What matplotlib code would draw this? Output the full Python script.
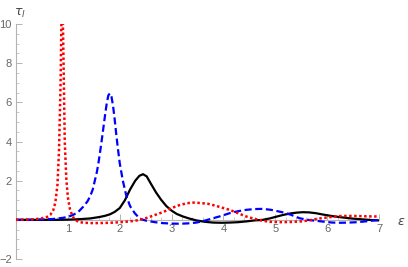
import numpy as np
import matplotlib
matplotlib.use("Agg")
import matplotlib.pyplot as plt
from matplotlib.ticker import MultipleLocator, FixedLocator

# ---------- data ----------
red_x = [0, 0.2, 0.4, 0.5, 0.6, 0.66, 0.72, 0.76, 0.8, 0.83, 0.86, 0.875, 0.89,
         0.905, 0.92, 0.94, 0.97, 1.0, 1.04, 1.08, 1.12, 1.2, 1.3, 1.5, 1.7,
         1.9, 2.1, 2.2, 2.35, 2.5, 2.65, 2.84, 3.0, 3.15, 3.3, 3.42, 3.55, 3.7,
         3.85, 4.0, 4.12, 4.28, 4.44, 4.6, 4.76, 4.9, 5.1, 5.3, 5.5, 5.65, 5.8,
         6.0, 6.15, 6.3, 6.5, 6.75, 7.0]
red_y = [0, 0.01, 0.04, 0.08, 0.15, 0.25, 0.5, 0.9, 1.8, 3.6, 7.0, 10.0, 11.0,
         10.0, 7.5, 4.0, 2.1, 1.15, 0.55, 0.25, 0.05, -0.1, -0.15, -0.17,
         -0.16, -0.14, -0.1, -0.08, -0.02, 0.08, 0.22, 0.4, 0.6, 0.75, 0.85,
         0.88, 0.86, 0.82, 0.72, 0.6, 0.51, 0.34, 0.17, 0.05, -0.05, -0.1,
         -0.12, -0.11, -0.08, -0.03, 0.05, 0.12, 0.17, 0.2, 0.2, 0.18, 0.17]

blue_x = [0, 0.4, 0.7, 0.9, 1.0, 1.1, 1.2, 1.3, 1.38, 1.43, 1.48, 1.52, 1.56,
          1.59, 1.64, 1.68, 1.72, 1.75, 1.78, 1.81, 1.84, 1.87, 1.9, 1.93,
          1.96, 2.0, 2.06, 2.13, 2.2, 2.29, 2.39, 2.52, 2.68, 2.84, 3.0, 3.16,
          3.32, 3.48, 3.64, 3.8, 3.96, 4.12, 4.28, 4.44, 4.6, 4.76, 4.92, 5.15,
          5.3, 5.47, 5.63, 5.79, 5.95, 6.1, 6.26, 6.42, 6.58, 6.74, 6.9, 7.0]
blue_y = [0, 0.01, 0.04, 0.1, 0.15, 0.25, 0.4, 0.68, 0.95, 1.2, 1.55, 2.0, 2.45,
          2.9, 3.8, 4.6, 5.4, 5.95, 6.35, 6.46, 6.3, 5.85, 5.2, 4.45, 3.75,
          2.9, 2.0, 1.2, 0.7, 0.34, 0.05, -0.05, -0.12, -0.17, -0.19, -0.2,
          -0.18, -0.14, -0.04, 0.08, 0.2, 0.34, 0.44, 0.51, 0.55, 0.56, 0.51,
          0.38, 0.26, 0.08, 0.0, -0.05, -0.1, -0.14, -0.15, -0.14, -0.12, -0.08,
          -0.03, 0.0]

black_x = [0, 0.5, 0.8, 1.0, 1.2, 1.43, 1.6, 1.71, 1.81, 1.9, 2.0, 2.1, 2.2,
           2.3, 2.38, 2.45, 2.52, 2.6, 2.7, 2.8, 2.9, 3.0, 3.1, 3.22, 3.35,
           3.48, 3.64, 3.8, 3.96, 4.12, 4.28, 4.44, 4.6, 4.76, 4.89, 5.02, 5.15,
           5.3, 5.42, 5.53, 5.65, 5.78, 5.92, 6.1, 6.3, 6.5, 6.7, 6.85, 7.0]
black_y = [0, 0.0, 0.0, 0.01, 0.03, 0.07, 0.14, 0.2, 0.28, 0.4, 0.6, 1.0, 1.55,
           2.0, 2.25, 2.33, 2.22, 1.85, 1.4, 1.02, 0.7, 0.47, 0.3, 0.17, 0.06,
           -0.03, -0.1, -0.14, -0.15, -0.14, -0.12, -0.08, -0.03, 0.0, 0.07,
           0.16, 0.25, 0.33, 0.37, 0.39, 0.38, 0.34, 0.27, 0.19, 0.12, 0.06,
           0.02, -0.01, -0.03]

x_ticks = [1, 2, 3, 4, 5, 6, 7]
y_ticks = [-2, 2, 4, 6, 8, 10]

# ---------- figure ----------
fig = plt.figure(figsize=(4.08, 2.67), dpi=100)
W, H = 408, 267
x0, x7 = 16, 379
y_top, y_bot = 24, 259
ax = fig.add_axes([x0 / W, 1 - y_bot / H, (x7 - x0) / W, (y_bot - y_top) / H])
ax.set_xlim(0, 7)
ax.set_ylim(-2, 10)

lw = 1.6
ax.plot(black_x, black_y, color="black", lw=lw, zorder=3)
ax.plot(blue_x, blue_y, color="#0000ff", lw=lw, linestyle=(0, (3.2, 1.6)),
        zorder=4)
ax.plot(red_x, red_y, color="#ff0000", lw=1.8, linestyle=(0, (1, 1.0)),
        zorder=5)

axis_col = "#b3b3b3"
lab_col = "#666666"
for s in ["top", "right"]:
    ax.spines[s].set_visible(False)
ax.spines["left"].set_position(("data", 0))
ax.spines["bottom"].set_position(("data", 0))
ax.spines["left"].set_color(axis_col)
ax.spines["bottom"].set_color(axis_col)
ax.spines["left"].set_linewidth(0.8)
ax.spines["bottom"].set_linewidth(0.8)

ax.xaxis.set_major_locator(FixedLocator(x_ticks))
ax.yaxis.set_major_locator(FixedLocator(y_ticks))
ax.xaxis.set_minor_locator(MultipleLocator(0.2))
ax.yaxis.set_minor_locator(MultipleLocator(0.5))
ax.set_xticklabels([str(t) for t in x_ticks])
ax.set_yticklabels([("\u2212" + str(-t)) if t < 0 else str(t) for t in y_ticks])
ax.tick_params(which="major", direction="in", length=4, width=0.7,
               color=axis_col, labelcolor=lab_col, labelsize=8, pad=3)
ax.tick_params(which="minor", direction="in", length=2, width=0.5,
               color=axis_col)
for lab in ax.get_xticklabels() + ax.get_yticklabels():
    lab.set_family("Liberation Sans")

ax.text(0.08, 10.2, r"$\tau_l$", color="#444444", fontsize=9,
        ha="center", va="bottom", clip_on=False)
ax.text(7.42, -0.1, r"$\varepsilon$", color="#444444", fontsize=9,
        ha="center", va="center", clip_on=False)

fig.savefig("out.png", dpi=100)
